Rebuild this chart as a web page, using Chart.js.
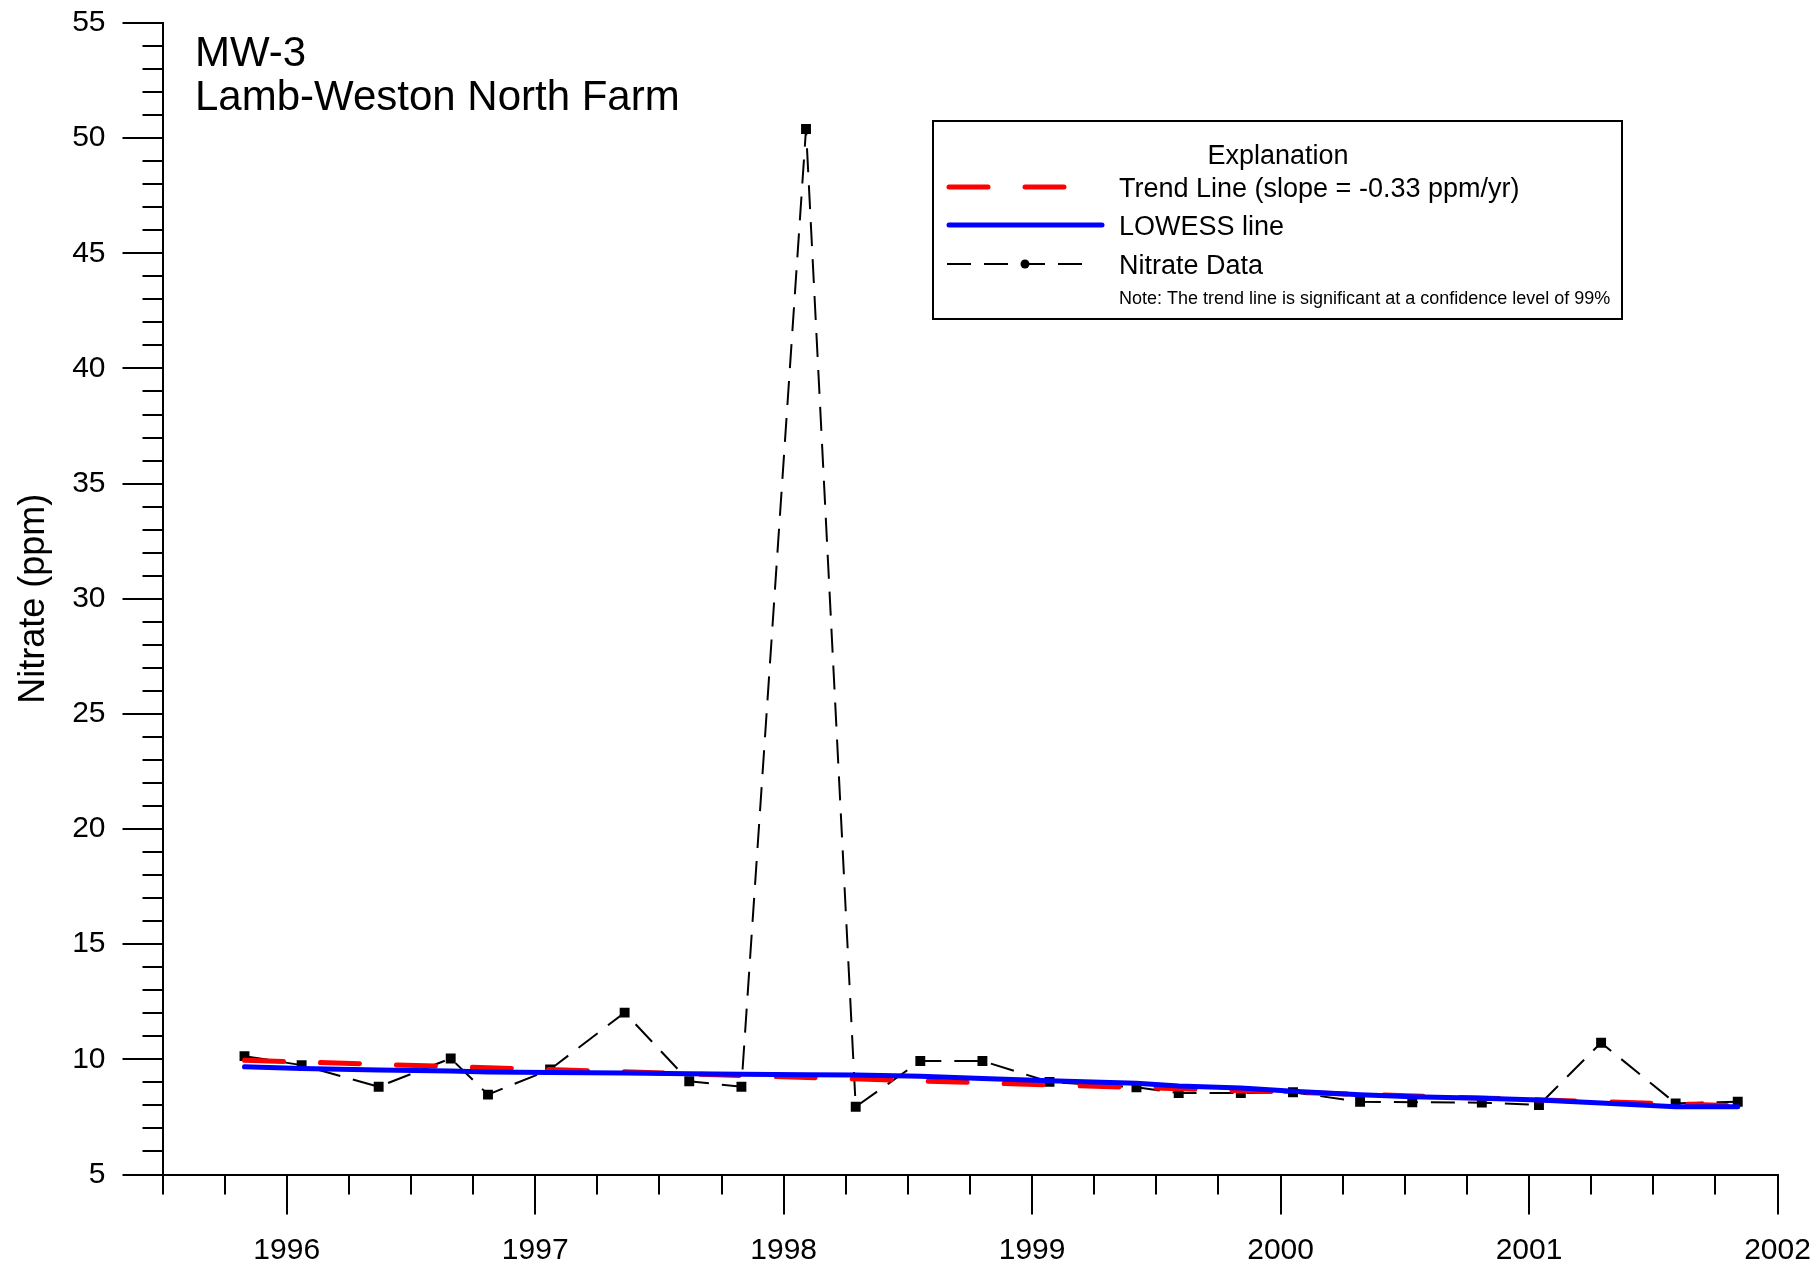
<!DOCTYPE html>
<html>
<head>
<meta charset="utf-8">
<title>MW-3 Nitrate</title>
<script src="https://cdn.jsdelivr.net/npm/chart.js@4.4.0/dist/chart.umd.min.js"></script>
<style>
    html, body { margin: 0; padding: 0; background: #fff; }
    #wrap { position: relative; width: 1818px; height: 1267px; }
</style>
</head>
<body>
<div id="wrap"><canvas id="nitrate-chart"></canvas></div>
<script>
// sample dates as decimal years, nitrate in ppm
const sampleDates = [1995.83, 1996.06, 1996.37, 1996.66, 1996.81, 1997.06, 1997.36, 1997.62, 1997.83,
    1998.09, 1998.29, 1998.55, 1998.80, 1999.07, 1999.42, 1999.59, 1999.84, 2000.05, 2000.32,
    2000.53, 2000.81, 2001.04, 2001.29, 2001.59, 2001.84];
const nitrateValues = [10.14, 9.75, 8.81, 10.04, 8.47, 9.56, 12.03, 9.05, 8.81,
    50.4, 7.94, 9.93, 9.93, 9.02, 8.79, 8.54, 8.54, 8.57, 8.16,
    8.14, 8.12, 8.02, 10.72, 8.09, 8.16];

// LOWESS smooth at the same dates
const lowessValues = [9.68, 9.60, 9.54, 9.49, 9.45, 9.43, 9.41, 9.37, 9.35,
    9.33, 9.32, 9.27, 9.17, 9.07, 8.96, 8.84, 8.76, 8.62, 8.46,
    8.38, 8.31, 8.24, 8.10, 7.94, 7.94];

// trend line end points
const trendDates = [1995.83, 2001.84];
const trendValues = [9.96, 7.98];

const yearTicks = [1996, 1997, 1998, 1999, 2000, 2001, 2002];
const nitrateTicks = [5, 10, 15, 20, 25, 30, 35, 40, 45, 50, 55];

const titleLines = ['MW-3', 'Lamb-Weston North Farm'];
const legendTitle = 'Explanation';
const legendNote = 'Note: The trend line is significant at a confidence level of 99%';

const FONT = "'Liberation Sans', Arial, sans-serif";

function toPoints(xs, ys) {
    return xs.map((x, i) => ({ x: x, y: ys[i] }));
}

// minor ticks, title and the boxed explanation
const overlayPlugin = {
    id: 'overlay',
    afterDraw(chart) {
        const { ctx, chartArea, scales: { x, y } } = chart;
        ctx.save();

        ctx.strokeStyle = '#000';
        ctx.lineWidth = 2;
        ctx.beginPath();
        for (let v = y.min + 1; v < y.max; v += 1) {
            if (v % 5 === 0) continue;
            const py = Math.round(y.getPixelForValue(v));
            ctx.moveTo(chartArea.left - 20, py);
            ctx.lineTo(chartArea.left, py);
        }
        for (let q = 0; x.min + q * 0.25 < x.max; q++) {
            const v = x.min + q * 0.25;
            if (Number.isInteger(v)) continue;
            const px = Math.round(x.getPixelForValue(v));
            ctx.moveTo(px, chartArea.bottom);
            ctx.lineTo(px, chartArea.bottom + 20);
        }
        ctx.stroke();

        // title
        ctx.fillStyle = '#000';
        ctx.textAlign = 'left';
        ctx.textBaseline = 'alphabetic';
        ctx.font = '42px ' + FONT;
        ctx.fillText(titleLines[0], 195, 66);
        ctx.fillText(titleLines[1], 195, 110);

        // explanation box
        const box = { x: 933, y: 121, w: 689, h: 198 };
        ctx.lineWidth = 2;
        ctx.strokeRect(box.x, box.y, box.w, box.h);

        ctx.font = '27px ' + FONT;
        ctx.textAlign = 'center';
        ctx.fillText(legendTitle, 1278, 164);

        const rows = [
            { y: 187, x1: 949, x2: 1067 },
            { y: 225, x1: 949, x2: 1102 },
            { y: 264, x1: 947, x2: 1086 }
        ];
        chart.data.datasets.forEach((ds, i) => {
            const r = rows[i];
            ctx.save();
            ctx.strokeStyle = ds.borderColor;
            ctx.lineWidth = ds.borderWidth;
            ctx.lineCap = ds.borderCapStyle || 'butt';
            ctx.setLineDash(ds.borderDash || []);
            ctx.beginPath();
            ctx.moveTo(r.x1, r.y);
            ctx.lineTo(r.x2, r.y);
            ctx.stroke();
            if (ds.pointRadius > 0) {
                ctx.fillStyle = ds.pointBackgroundColor;
                ctx.beginPath();
                ctx.arc(1025, r.y, 4.5, 0, Math.PI * 2);
                ctx.fill();
            }
            ctx.restore();
            ctx.textAlign = 'left';
            ctx.font = '27px ' + FONT;
            ctx.fillText(ds.label, 1119, r.y + 9.5);
        });

        ctx.font = '18px ' + FONT;
        ctx.fillText(legendNote, 1119, 304);

        ctx.restore();
    }
};

function initializeChart() {
    const canvas = document.getElementById('nitrate-chart');
    Chart.defaults.font.family = FONT;
    Chart.defaults.color = '#000';

    const axisGrid = {
        drawOnChartArea: false,
        drawTicks: true,
        tickLength: 40,
        color: '#000',
        lineWidth: 2
    };
    const axisBorder = { display: true, color: '#000', width: 2 };

    new Chart(canvas, {
        type: 'line',
        data: {
            datasets: [{
                label: 'Trend Line (slope = -0.33 ppm/yr)',
                data: toPoints(trendDates, trendValues),
                borderColor: '#ff0000',
                borderWidth: 5,
                borderDash: [39, 37],
                borderCapStyle: 'round',
                pointRadius: 0,
                tension: 0,
                order: 1
            }, {
                label: 'LOWESS line',
                data: toPoints(sampleDates, lowessValues),
                borderColor: '#0000ff',
                borderWidth: 5,
                borderCapStyle: 'round',
                borderJoinStyle: 'round',
                pointRadius: 0,
                tension: 0,
                order: 0
            }, {
                label: 'Nitrate Data',
                data: toPoints(sampleDates, nitrateValues),
                borderColor: '#000000',
                borderWidth: 2,
                borderDash: [24, 13],
                pointStyle: 'rect',
                pointRadius: 7,
                pointBackgroundColor: '#000000',
                pointBorderWidth: 0,
                tension: 0,
                order: 2
            }]
        },
        options: {
            responsive: true,
            maintainAspectRatio: false,
            animation: false,
            layout: {
                padding: { top: 23, right: 40.5, bottom: 0, left: 0 }
            },
            scales: {
                x: {
                    type: 'linear',
                    min: 1995.5,
                    max: 2002,
                    afterBuildTicks: axis => { axis.ticks = yearTicks.map(v => ({ value: v })); },
                    afterFit: axis => {
                        axis.height = 92.5;
                        axis.paddingLeft = 0;
                        axis.paddingRight = 0;
                    },
                    grid: axisGrid,
                    border: axisBorder,
                    ticks: {
                        autoSkip: false,
                        maxRotation: 0,
                        padding: 18,
                        font: { size: 30 },
                        color: '#000',
                        callback: v => String(v)
                    }
                },
                y: {
                    type: 'linear',
                    min: 5,
                    max: 55,
                    afterBuildTicks: axis => { axis.ticks = nitrateTicks.map(v => ({ value: v })); },
                    afterFit: axis => {
                        axis.width = 162.5;
                        axis.paddingTop = 0;
                        axis.paddingBottom = 0;
                    },
                    grid: axisGrid,
                    border: axisBorder,
                    title: {
                        display: true,
                        text: 'Nitrate (ppm)',
                        font: { size: 36 },
                        color: '#000',
                        padding: { top: 12, bottom: 0 }
                    },
                    ticks: {
                        padding: 17,
                        font: { size: 30 },
                        color: '#000'
                    }
                }
            },
            plugins: {
                legend: { display: false },
                tooltip: { enabled: false }
            }
        },
        plugins: [overlayPlugin]
    });
}

if (document.readyState === 'loading') {
    document.addEventListener('DOMContentLoaded', initializeChart);
} else {
    initializeChart();
}
</script>
</body>
</html>
